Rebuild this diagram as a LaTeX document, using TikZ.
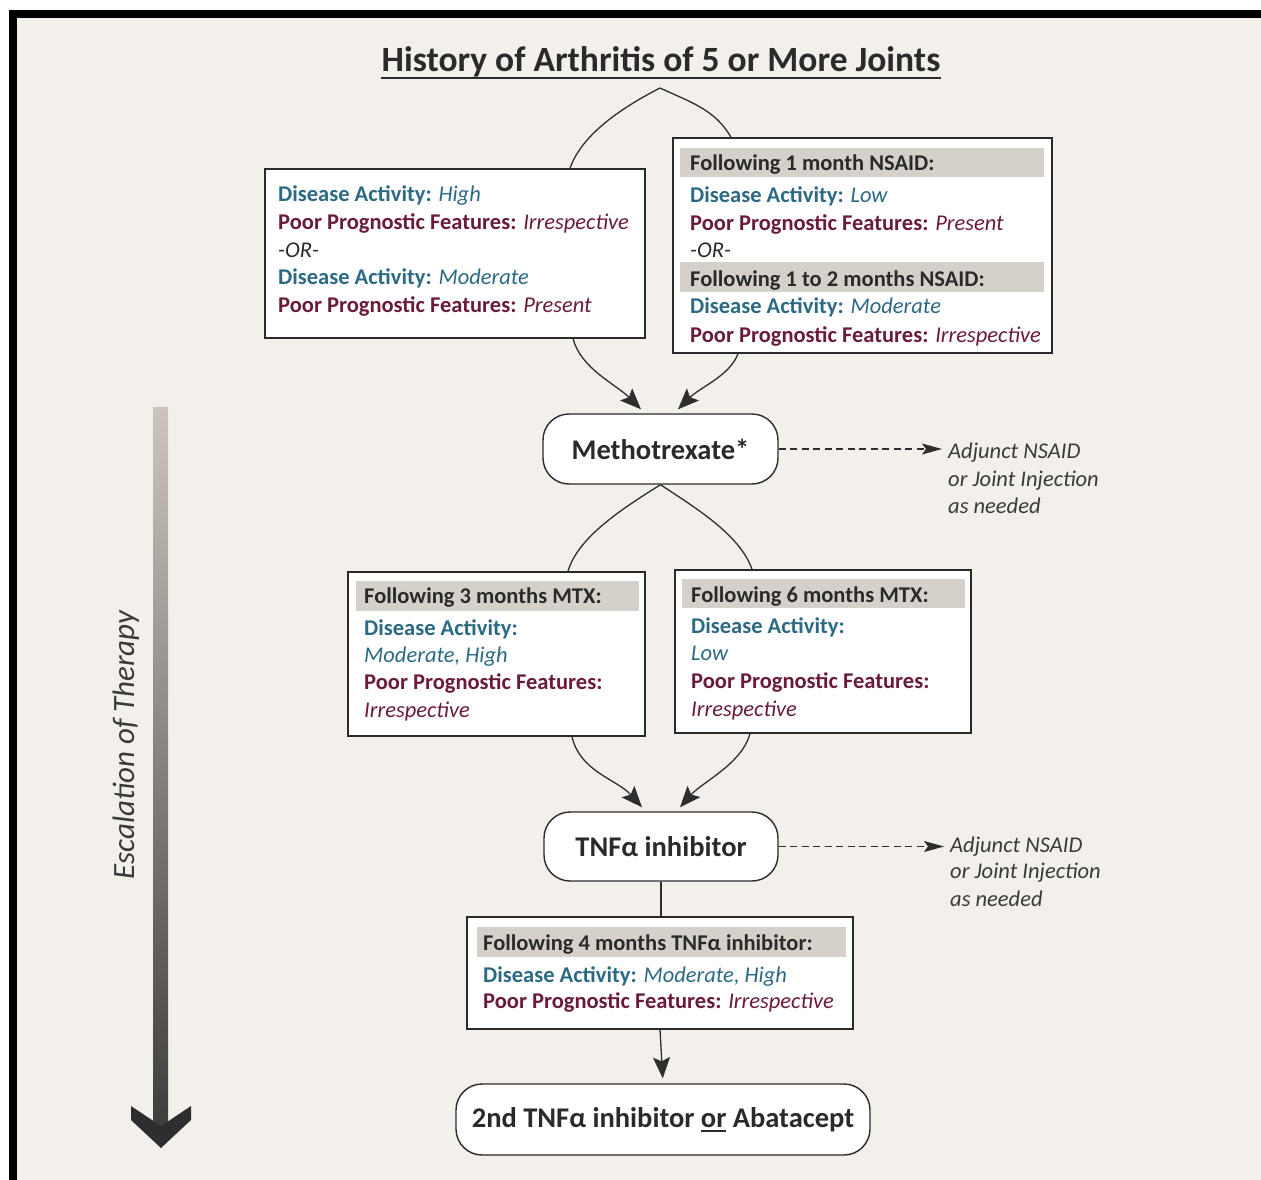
\documentclass[tikz,border=0pt]{standalone}
\usepackage{fontspec}
\setmainfont{Carlito}
\usetikzlibrary{arrows.meta}
\definecolor{bgc}{HTML}{F3F0EC}
\definecolor{tealc}{HTML}{2C6A84}
\definecolor{maroonc}{HTML}{6A1B3C}
\definecolor{band}{HTML}{D6D0CA}
\definecolor{ink}{HTML}{2A2A2A}
\definecolor{lnc}{HTML}{2E2E2E}
\definecolor{adjc}{HTML}{3A3A3A}
\definecolor{esc}{HTML}{3A3A3A}
\definecolor{barTop}{HTML}{CCC5BD}
\definecolor{barBot}{HTML}{3E3E3E}
\definecolor{chev}{HTML}{2E2E2E}
\newcommand{\dA}[1]{\textcolor{tealc}{\bfseries #1}}
\newcommand{\dV}[1]{\textcolor{tealc}{\itshape #1}}
\newcommand{\pA}[1]{\textcolor{maroonc}{\bfseries #1}}
\newcommand{\pV}[1]{\textcolor{maroonc}{\itshape #1}}
\newcommand{\myul}[1]{\setbox0\hbox{#1}\rlap{\rule[-5pt]{\wd0}{1.8pt}}\box0\relax}
\begin{document}
\begin{tikzpicture}[x=1pt,y=-1pt,
  txt/.style={anchor=base west,inner sep=0pt,font=\fontsize{22.5}{27}\selectfont},
  hdr/.style={txt,text=ink,font=\fontsize{22.5}{27}\selectfont\bfseries},
  orline/.style={txt,text=ink,font=\fontsize{22.5}{27}\selectfont\itshape},
  adj/.style={anchor=base west,inner sep=0pt,text=adjc,font=\fontsize{22.5}{27}\selectfont\itshape},
  infobox/.style={draw=ink,line width=1.4pt,fill=white,inner sep=0pt},
  bandfill/.style={fill=band},
  pill/.style={draw=ink,line width=1.4pt,fill=white,rounded corners=26pt,inner sep=0pt,font=\fontsize{28.5}{30}\selectfont\bfseries,text=ink},
  conn/.style={draw=lnc,line width=1.3pt},
  arr/.style={conn,-{Stealth[length=21pt,width=17pt,inset=4pt]}},
  darr/.style={conn,dash pattern=on 7pt off 4.5pt,-{Stealth[length=20pt,width=11pt,inset=4pt]}},
]
\useasboundingbox (0,0) rectangle (1261,1180);
\fill[white] (0,0) rectangle (1261,1180);
\fill[black] (9,10) rectangle (1261,1180);
\fill[bgc] (17,18) rectangle (1261,1180);

% title
\node[anchor=base,inner sep=0pt,font=\fontsize{35.5}{37}\selectfont\bfseries,text=ink] (title) at (661,72) {History of Arthritis of 5 or More Joints};
\draw[line width=1.8pt,ink] ([yshift=-6pt]title.base west) -- ([yshift=-6pt]title.base east);
\coordinate (apex1) at (660,88);

% escalation bar
\shade[top color=barTop,bottom color=barBot] (153,407) rectangle (168,1125);
\fill[chev] (131,1106) -- (161,1126) -- (191,1106) -- (191,1120) -- (161,1148) -- (131,1120) -- cycle;
\node[rotate=90,anchor=base west,inner sep=0pt,font=\fontsize{31}{31}\selectfont\itshape,text=esc] (escl) at (134,880) {Escalation of Therapy};

% box A
\node[infobox,minimum width=380pt,minimum height=169pt] (boxA) at (455,253.5) {};
\node[txt] (a1) at (278,201) {\dA{Disease Activity:} \dV{High}};
\node[txt] (a2) at (278,229) {\pA{Poor Prognostic Features:} \pV{Irrespective}};
\node[orline] (a3) at (278,257) {-OR-};
\node[txt] (a4) at (278,284) {\dA{Disease Activity:} \dV{Moderate}};
\node[txt] (a5) at (278,312) {\pA{Poor Prognostic Features:} \pV{Present}};

% box B
\node[infobox,minimum width=379pt,minimum height=215pt] (boxB) at (862.5,245.5) {};
\fill[bandfill] (680,148) rectangle (1044,177);
\fill[bandfill] (680,262) rectangle (1044,292);
\node[hdr] (b1) at (690,171) {Following 1 month NSAID:};
\node[txt] (b2) at (690,202) {\dA{Disease Activity:} \dV{Low}};
\node[txt] (b3) at (690,230) {\pA{Poor Prognostic Features:} \pV{Present}};
\node[orline] (b4) at (690,257) {-OR-};
\node[hdr] (b5) at (690,286) {Following 1 to 2 months NSAID:};
\node[txt] (b6) at (690,313) {\dA{Disease Activity:} \dV{Moderate}};
\node[txt] (b7) at (690,342) {\pA{Poor Prognostic Features:} \pV{Irrespective}};

% methotrexate
\node[pill,minimum width=235pt,minimum height=70pt] (mtx) at (660.5,449) {Methotrexate*};
\node[adj] (adjA1) at (948,458) {Adjunct NSAID};
\node[adj] (adjA2) at (948,486) {or Joint Injection};
\node[adj] (adjA3) at (948,513) {as needed};

% box C
\node[infobox,minimum width=297pt,minimum height=164pt] (boxC) at (496.5,654) {};
\fill[bandfill] (356,581) rectangle (639,611);
\node[hdr] (c1) at (364,603) {Following 3 months MTX:};
\node[txt] (c2) at (364,635) {\dA{Disease Activity:}};
\node[txt] (c3) at (364,662) {\dV{Moderate, High}};
\node[txt] (c4) at (364,689) {\pA{Poor Prognostic Features:}};
\node[txt] (c5) at (364,717) {\pV{Irrespective}};

% box D
\node[infobox,minimum width=296pt,minimum height=163pt] (boxD) at (823,651.5) {};
\fill[bandfill] (682,579) rectangle (965,608);
\node[hdr] (d1) at (691,602) {Following 6 months MTX:};
\node[txt] (d2) at (691,633) {\dA{Disease Activity:}};
\node[txt] (d3) at (691,660) {\dV{Low}};
\node[txt] (d4) at (691,688) {\pA{Poor Prognostic Features:}};
\node[txt] (d5) at (691,716) {\pV{Irrespective}};

% TNF
\node[pill,minimum width=234pt,minimum height=69pt] (tnf) at (661,846.5) {TNFα inhibitor};
\node[adj] (adjB1) at (950,852) {Adjunct NSAID};
\node[adj] (adjB2) at (950,878) {or Joint Injection};
\node[adj] (adjB3) at (950,906) {as needed};

% box E
\node[infobox,minimum width=386pt,minimum height=112pt] (boxE) at (660,973) {};
\fill[bandfill] (477,927) rectangle (846,957);
\node[hdr] (e1) at (483,950) {Following 4 months TNFα inhibitor:};
\node[txt] (e2) at (483,982) {\dA{Disease Activity:} \dV{Moderate, High}};
\node[txt] (e3) at (483,1008) {\pA{Poor Prognostic Features:} \pV{Irrespective}};

% final
\node[pill,minimum width=414pt,minimum height=71pt] (fin) at (663,1119.5) {2nd TNFα inhibitor \myul{or} Abatacept};

% connectors
\draw[conn] (apex1) .. controls +(-35,18) and +(12,-35) .. ([xshift=115pt]boxA.north);
\draw[conn] (apex1) .. controls +(30,14) and +(-16,-28) .. ([xshift=-131.5pt]boxB.north);
\draw[arr] ([xshift=118pt]boxA.south) .. controls +(8,30) and +(-25,-25) .. ([xshift=-19.5pt,yshift=4pt]mtx.north);
\draw[arr] ([xshift=-124.5pt]boxB.south) .. controls +(-8,22) and +(22,-22) .. ([xshift=17.5pt,yshift=4pt]mtx.north);
\draw[darr,shorten >=6pt] (mtx.east) -- (mtx.east -| adjA1.west);

\draw[conn] (mtx.south) .. controls +(-35,22) and +(10,-35) .. ([xshift=71.5pt]boxC.north);
\draw[conn] (mtx.south) .. controls +(33,22) and +(-12,-35) .. ([xshift=-71pt]boxD.north);
\draw[arr] ([xshift=75.5pt]boxC.south) .. controls +(8,35) and +(-25,-28) .. ([xshift=-19pt,yshift=4pt]tnf.north);
\draw[arr] ([xshift=-73pt]boxD.south) .. controls +(-8,30) and +(22,-25) .. ([xshift=19pt,yshift=4pt]tnf.north);
\draw[darr,shorten >=6pt] (tnf.east) -- (tnf.east -| adjB1.west);

\draw[conn] (tnf.south) -- (tnf.south |- boxE.north);
\draw[arr,shorten >=5pt] (boxE.south) -- (fin.north);
\end{tikzpicture}
\end{document}
